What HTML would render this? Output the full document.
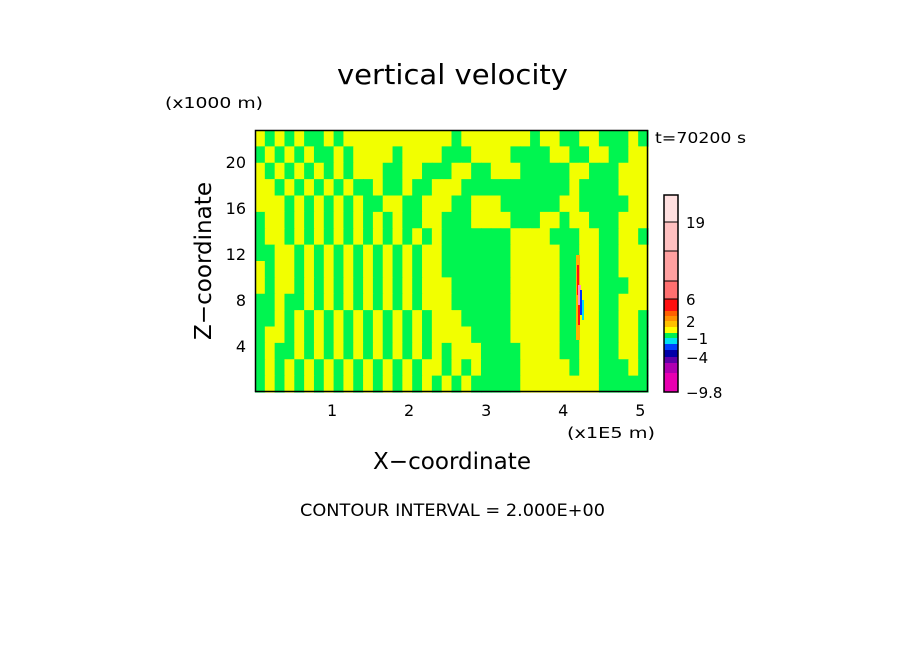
<!DOCTYPE html>
<html><head><meta charset="utf-8"><style>
body{margin:0;background:#fff;width:904px;height:654px;overflow:hidden}
svg text{font-family:"DejaVu Sans","Liberation Sans",sans-serif;fill:#000}
</style></head><body>
<svg id="chart" width="904" height="654" viewBox="0 0 904 654">
<text x="337" y="84" font-size="28" textLength="231" lengthAdjust="spacingAndGlyphs">vertical velocity</text>
<text x="165" y="108" font-size="15" textLength="98" lengthAdjust="spacingAndGlyphs">(x1000 m)</text>
<text x="655" y="143" font-size="15" textLength="91" lengthAdjust="spacingAndGlyphs">t=70200 s</text>
<g id="field"></g>
<rect x="255.5" y="130.5" width="392" height="261" fill="none" stroke="#000" stroke-width="1.5"/>
<g id="xt"></g>
<g id="yt"></g>
<text x="567" y="438" font-size="15" textLength="88" lengthAdjust="spacingAndGlyphs">(x1E5 m)</text>
<text x="373" y="469" font-size="23" textLength="158" lengthAdjust="spacingAndGlyphs">X−coordinate</text>
<text transform="translate(211,340) rotate(-90)" font-size="23" textLength="158" lengthAdjust="spacingAndGlyphs">Z−coordinate</text>
<g id="cb"></g>
<text x="300" y="516" font-size="17" textLength="305" lengthAdjust="spacingAndGlyphs">CONTOUR INTERVAL = 2.000E+00</text>
</svg>
<script>
const NS="http://www.w3.org/2000/svg";
const rows=[
"YGYGYGGYGYYYYYYYYY"+"YYGYYYYYYYGYYGGYYGGGYG",
"GYGYGYGGYGYYYYGYYY"+"YGGGYYYYGGGGYYGGYYGGYY",
"YGYGYGYGYGYYYGGYYG"+"GGYYGGYYYGGGGGYYGGGYYY",
"YYGYGYGYGYGGYGGYGG"+"YYYGGGGGGGGGGGYGGGGYYY",
"YYYGYGYGYGYGGYYGGY"+"YYGGYYYGGGGGGYYGGGGGYY",
"GYYGYGYGYGYGYGYGGY"+"YGGGYYYYGGGYYGYYGGGYYY",
"GYYGYGYGYGYGYGYGYG"+"YGGGGGGGYYYYGGGYYGGYYG",
"GGYYGYGYGYGYGYGYGY"+"YGGGGGGGYYYYYGGYYGGYYY",
"YGYYGYGYGYGYGYGYGY"+"YGGGGGGGYYYYYGGYYGGYYY",
"YGYYGYGYGYGYGYGYGY"+"YYGGGGGGYYYYYGGYYGGGYY",
"GGYGGYGYGYGYGYGYGY"+"YYGGGGGGYYYYYGGYYGGYYY",
"GGYGYGYGYGYGYGYGYG"+"YYYGGGGGYYYYYGGYYGGYYG",
"GYYGYGYGYGYGYGYGYG"+"YYYYGGGGYYYYYGGYYGGYYG",
"GYGGYGYGYGYGYGYGYG"+"YGYYYGGGGYYYYGGYYGGYYG",
"GYGYGYGYGYGYGYGYGY"+"YGYGYGGGGYYYYYGYYGGGYG",
"GYGYGYGYGYGYGYGYGY"+"GYGYGGGGGYYYYYYYYGGGGG"];
const xTicks=[1,2,3,4,5];
const yTicks=[4,8,12,16,20];
const cbLevels=[-9.8,-8,-6,-4,-3,-2,-1,0,1,2,3,4,6,10,14,19,23];
const cbColors=["#e800b0","#b000b0","#6000a8","#0000a8","#0040ff","#00e0f0","#00f050","#ffff00","#ffc000","#ff9000","#ff6000","#ff1010","#ff7070","#ffa0a0","#ffc0c0","#ffe0e0"];
const cbLabels=[{v:19,t:"19"},{v:6,t:"6"},{v:2,t:"2"},{v:-1,t:"−1"},{v:-4,t:"−4"},{v:-9.8,t:"−9.8"}];
const X0=255,X1=648,Y0=392,Y1=130,XMAX=5.1,ZMAX=22.8;
const sx=v=>X0+v/XMAX*(X1-X0), sz=v=>Y0-v/ZMAX*(Y0-Y1);
function el(t,a,p){const e=document.createElementNS(NS,t);for(const k in a)e.setAttribute(k,a[k]);p.appendChild(e);return e;}
const field=document.getElementById('field');
const cw=(X1-X0)/rows[0].length, ch=(Y0-Y1)/rows.length;
rows.forEach((r,i)=>{for(let j=0;j<r.length;j++){
 const e=el('rect',{x:X0+j*cw,y:Y1+i*ch,width:cw+0.6,height:ch+0.6,fill:r[j]==='Y'?'#f2ff00':'#00f550'},field);
 
 
}});
[["#ffb000",576,255,4,85],["#ff1010",577,265,2,30],["#ff90c0",578,285,3,25],["#0030ff",580,290,2,25],["#00e0f0",582,300,2,20],["#ff1010",578,305,2,20]].forEach(a=>{
 const e=el('rect',{x:a[1],y:a[2],width:a[3],height:a[4],fill:a[0]},field);
 
 
});
const xt=document.getElementById('xt');
xTicks.forEach(v=>{const e=el('text',{x:sx(v),y:416,'font-size':16,'text-anchor':'middle'},xt);e.textContent=v;
 });
const yt=document.getElementById('yt');
yTicks.forEach(v=>{const e=el('text',{x:246,y:sz(v)+6,'font-size':16,'text-anchor':'end'},yt);e.textContent=v;
 });
const cb=document.getElementById('cb');
const CB0=392,CB1=195;
const bpx=[392,373,363,357,350,344,338,333,327,321,316,311,299,281,251,222,195];
const lv=v=>{for(let i=0;i<cbLevels.length-1;i++){if(v<=cbLevels[i+1]){const f=(v-cbLevels[i])/(cbLevels[i+1]-cbLevels[i]);return bpx[i]+f*(bpx[i+1]-bpx[i]);}}return CB1;};
cbColors.forEach((c,i)=>{const y2=lv(cbLevels[i]),y1=lv(cbLevels[i+1]);
 const e=el('rect',{x:664,y:y1,width:14,height:y2-y1,fill:c,stroke:i>=12?'#000':'none','stroke-width':1},cb);
 });
el('rect',{x:664,y:CB1,width:14,height:CB0-CB1,fill:'none',stroke:'#000','stroke-width':1.5},cb);
cbLabels.forEach(o=>{const e=el('text',{x:686,y:lv(o.v)+6,'font-size':15},cb);e.textContent=o.t;
 });
</script>
</body></html>
